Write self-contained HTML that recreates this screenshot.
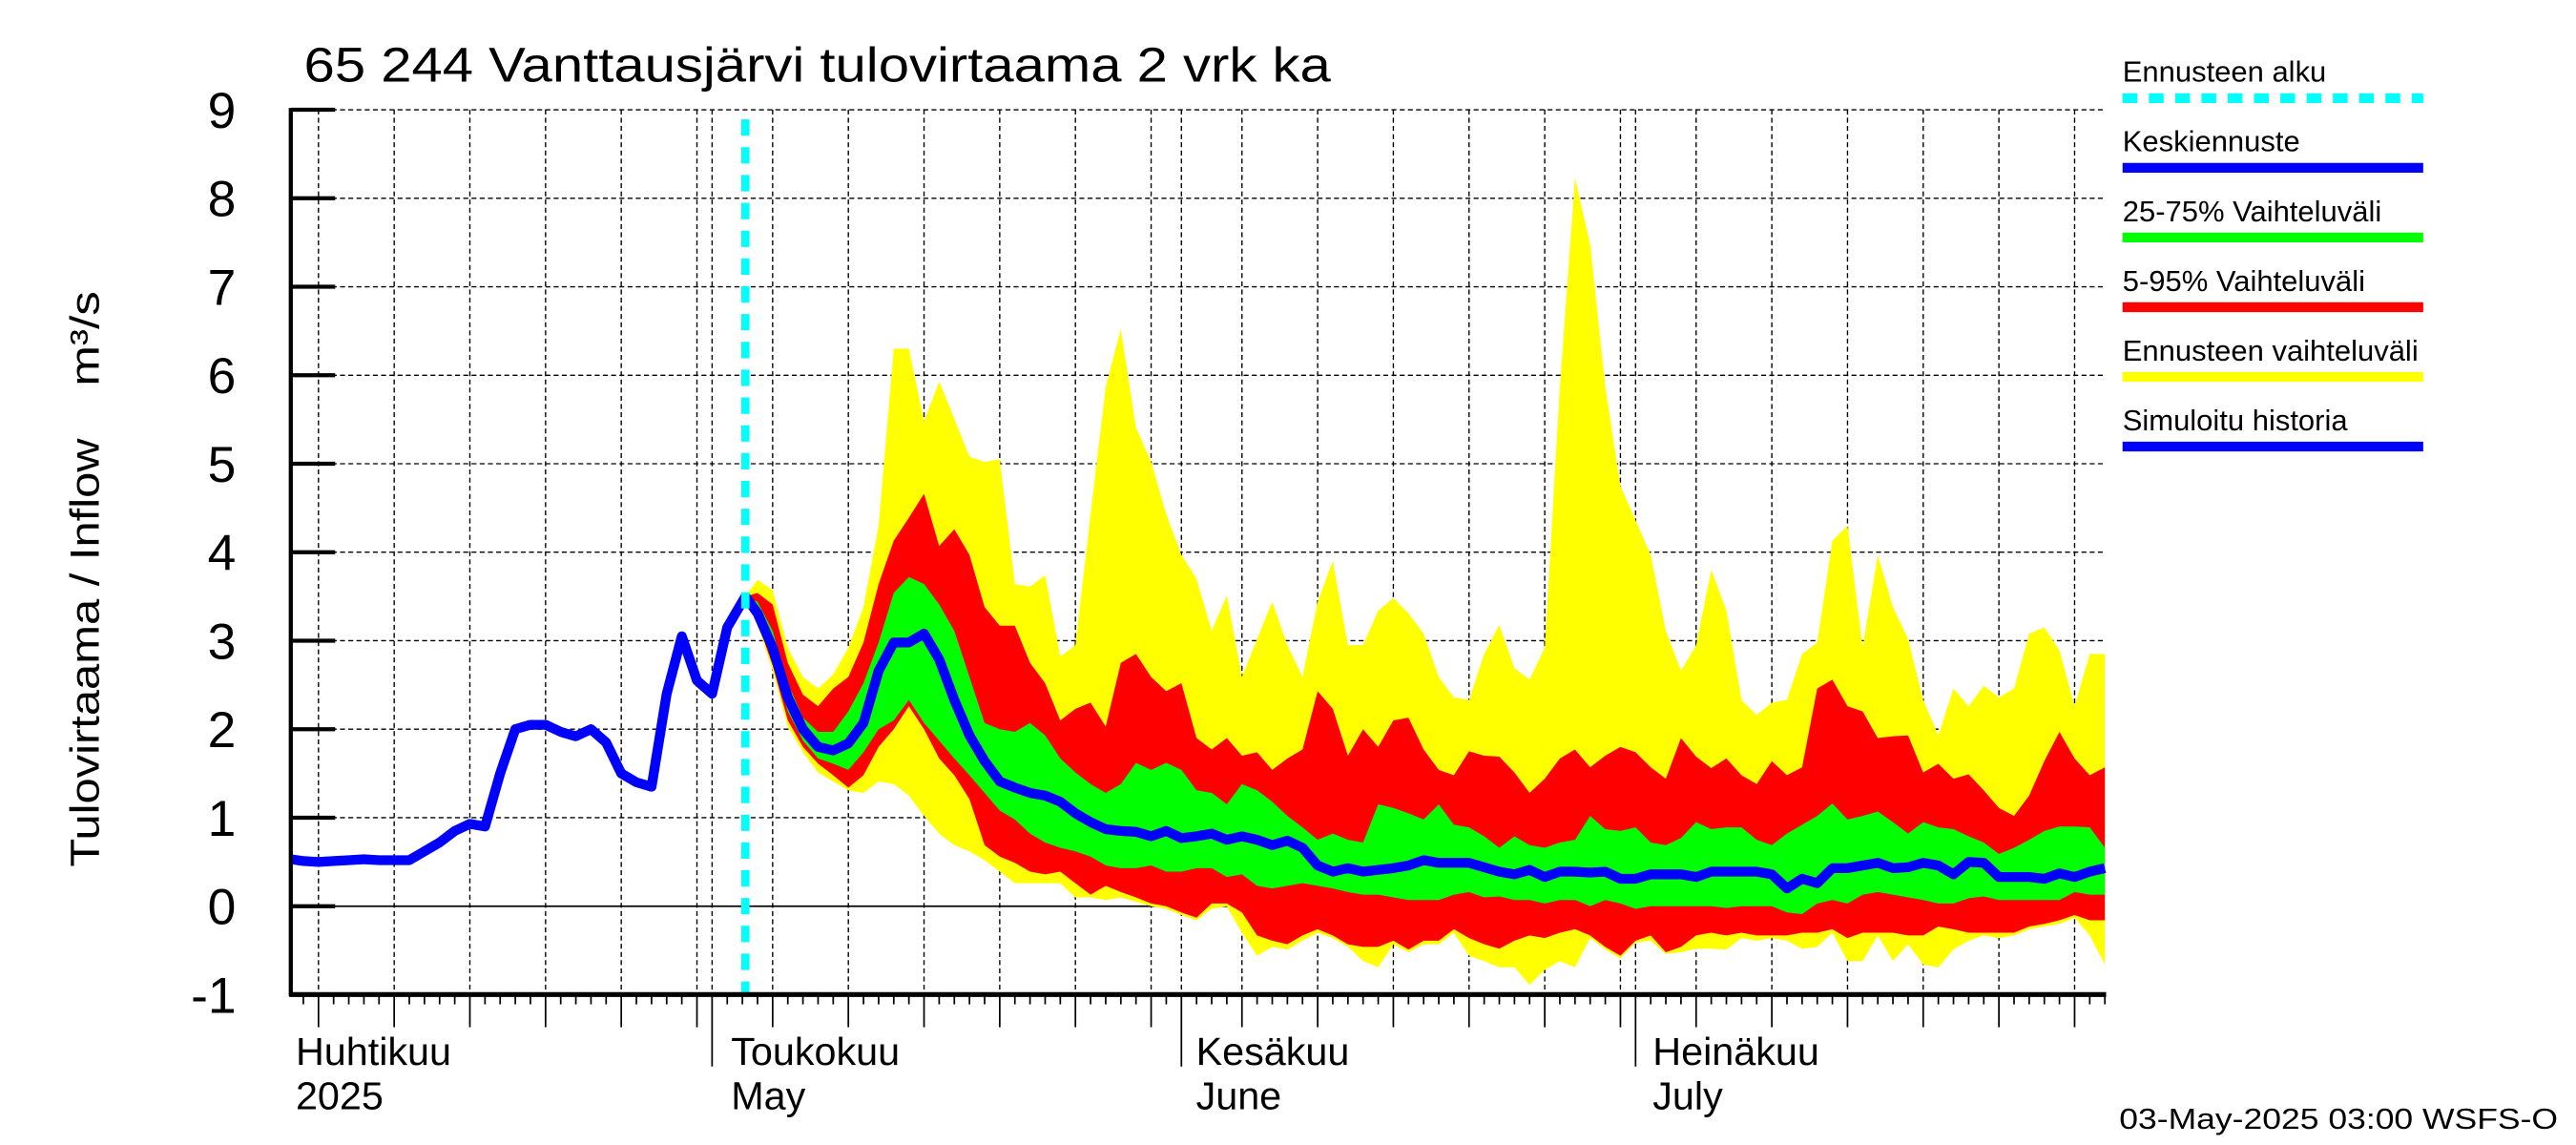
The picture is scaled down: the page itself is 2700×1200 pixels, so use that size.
<!DOCTYPE html>
<html><head><meta charset="utf-8"><style>
html,body{margin:0;padding:0;background:#fff;}
svg{display:block;}
text{font-family:"Liberation Sans",sans-serif;fill:#000;}
</style></head><body>
<svg id="chart" width="2700" height="1200" viewBox="0 0 1568 700" preserveAspectRatio="none" xmlns="http://www.w3.org/2000/svg">
<g id="grid"></g>
<g id="bands"></g>
<g id="lines"></g>
<g id="axes"></g>
<text x="185" y="50" font-size="30" textLength="625" lengthAdjust="spacingAndGlyphs">65 244 Vanttausjärvi tulovirtaama 2 vrk ka</text>
<text transform="translate(60,530) rotate(-90)" font-size="25" textLength="262" lengthAdjust="spacingAndGlyphs">Tulovirtaama / Inflow</text>
<text transform="translate(60,236) rotate(-90)" font-size="25" textLength="58" lengthAdjust="spacingAndGlyphs">m³/s</text>
<text x="1290" y="690" font-size="18" textLength="267" lengthAdjust="spacingAndGlyphs">03-May-2025 03:00 WSFS-O</text>
<g id="legend"></g>
</svg>
<script>
const yTicks = [-1,0,1,2,3,4,5,6,7,8,9];
const monthLabels = [["Huhtikuu","2025",180,0],["Toukokuu","May",445,30],["Kesäkuu","June",728,61],["Heinäkuu","July",1006,91]];
const monthStarts = [30,61,91];
const histT = [2.2,3,4,5,6,7,8,9,10,11,12,13,14,15,16,17,18,19,20,21,22,23,24,25,26,27,28,29,30,31,32.2];
const histV = [0.53,0.51,0.50,0.51,0.52,0.53,0.52,0.52,0.52,0.62,0.72,0.85,0.93,0.9,1.5,2.0,2.05,2.05,1.97,1.92,2.0,1.85,1.5,1.4,1.35,2.4,3.05,2.55,2.4,3.15,3.5];
const fcT = [32.2,33,34,35,36,37,38,39,40,41,42,43,44,45,46,47,48,49,50,51,52,53,54,55,56,57,58,59,60,61,62,63,64,65,66,67,68,69,70,71,72,73,74,75,76,77,78,79,80,81,82,83,84,85,86,87,88,89,90,91,92,93,94,95,96,97,98,99,100,101,102,103,104,105,106,107,108,109,110,111,112,113,114,115,116,117,118,119,120,121,122];
const yelHi = [3.5,3.69,3.57,2.92,2.59,2.46,2.62,2.92,3.38,4.3,6.3,6.3,5.48,5.93,5.51,5.08,5.02,5.05,3.64,3.61,3.74,2.82,2.95,4.43,5.87,6.52,5.41,5.02,4.43,3.97,3.7,3.11,3.51,2.59,3.02,3.44,2.95,2.59,3.44,3.9,2.95,2.95,3.34,3.48,3.31,3.08,2.59,2.36,2.33,2.85,3.18,2.69,2.56,2.92,5.87,8.23,7.48,5.87,4.75,4.36,3.97,3.11,2.66,2.95,3.8,3.34,2.33,2.16,2.3,2.33,2.85,2.98,4.13,4.3,2.92,3.97,3.38,3.02,2.33,1.93,2.46,2.26,2.49,2.36,2.46,3.08,3.15,2.89,2.26,2.85,2.85];
const redHi = [3.5,3.54,3.41,2.75,2.39,2.26,2.46,2.59,2.98,3.64,4.13,4.39,4.66,4.07,4.26,3.97,3.38,3.17,3.17,2.75,2.52,2.1,2.23,2.3,2.03,2.75,2.85,2.59,2.43,2.52,1.9,1.77,1.9,1.7,1.74,1.54,1.67,1.77,2.43,2.23,1.7,2.0,1.8,2.1,2.13,1.77,1.54,1.48,1.75,1.7,1.69,1.51,1.28,1.44,1.67,1.77,1.57,1.7,1.8,1.74,1.57,1.44,1.9,1.69,1.56,1.67,1.48,1.38,1.64,1.48,1.57,2.46,2.56,2.26,2.2,1.9,1.92,1.93,1.51,1.61,1.44,1.49,1.31,1.11,1.02,1.25,1.64,1.97,1.67,1.48,1.57];
const greenHi = [3.5,3.44,3.11,2.52,2.13,1.97,1.97,2.2,2.52,2.98,3.54,3.72,3.64,3.41,3.11,2.59,2.07,2.0,1.97,2.07,1.93,1.67,1.51,1.38,1.28,1.38,1.62,1.54,1.62,1.54,1.31,1.28,1.15,1.38,1.31,1.18,1.02,0.89,0.75,0.82,0.75,0.72,1.15,1.11,1.05,0.98,1.15,0.92,0.89,0.79,0.66,0.79,0.69,0.66,0.72,0.75,1.02,0.87,0.85,0.89,0.72,0.69,0.77,0.95,0.87,0.89,0.89,0.75,0.69,0.82,0.92,1.02,1.16,0.98,1.02,1.07,0.95,0.82,0.95,0.89,0.87,0.79,0.72,0.59,0.66,0.75,0.85,0.9,0.9,0.89,0.66];
const median = [3.5,3.31,2.92,2.36,2.0,1.8,1.76,1.84,2.07,2.66,2.98,2.98,3.08,2.79,2.33,1.93,1.64,1.41,1.34,1.28,1.25,1.18,1.05,0.95,0.87,0.85,0.84,0.79,0.85,0.77,0.79,0.82,0.75,0.79,0.75,0.69,0.74,0.66,0.46,0.39,0.43,0.39,0.41,0.43,0.46,0.52,0.49,0.49,0.49,0.44,0.39,0.36,0.41,0.33,0.39,0.39,0.38,0.39,0.31,0.31,0.36,0.36,0.36,0.33,0.39,0.39,0.39,0.39,0.36,0.2,0.31,0.26,0.43,0.43,0.46,0.49,0.43,0.44,0.49,0.46,0.36,0.5,0.49,0.33,0.33,0.33,0.31,0.37,0.33,0.39,0.43];
const greenLo = [3.5,3.25,2.79,2.2,1.87,1.67,1.61,1.54,1.74,2.0,2.1,2.33,2.07,1.87,1.67,1.48,1.28,1.08,0.98,0.82,0.72,0.66,0.62,0.56,0.46,0.43,0.43,0.46,0.39,0.39,0.43,0.43,0.33,0.36,0.23,0.2,0.23,0.26,0.23,0.2,0.16,0.13,0.13,0.1,0.07,0.07,0.07,0.13,0.16,0.1,0.11,0.07,0.07,0.03,0.07,0.07,0.0,0.07,0.03,-0.03,0.0,0.0,0.0,0.0,0.0,-0.02,0.0,0.0,0.0,-0.07,-0.09,0.03,0.07,0.03,0.13,0.16,0.13,0.1,0.07,0.03,0.03,0.09,0.11,0.07,0.07,0.07,0.07,0.07,0.16,0.13,0.13];
const redLo = [3.5,3.21,2.72,2.1,1.8,1.61,1.48,1.34,1.48,1.8,2.0,2.26,2.0,1.67,1.48,1.21,0.69,0.56,0.49,0.39,0.36,0.39,0.26,0.13,0.23,0.16,0.1,0.03,0.0,-0.07,-0.13,0.03,0.03,-0.07,-0.33,-0.39,-0.43,-0.33,-0.26,-0.33,-0.43,-0.46,-0.46,-0.39,-0.49,-0.39,-0.39,-0.26,-0.36,-0.43,-0.48,-0.39,-0.33,-0.36,-0.3,-0.26,-0.33,-0.46,-0.56,-0.39,-0.33,-0.52,-0.46,-0.33,-0.3,-0.33,-0.3,-0.33,-0.33,-0.33,-0.3,-0.3,-0.26,-0.36,-0.3,-0.3,-0.3,-0.33,-0.33,-0.23,-0.26,-0.3,-0.3,-0.3,-0.3,-0.23,-0.2,-0.16,-0.1,-0.16,-0.16];
const yelLo = [3.5,3.18,2.66,2.03,1.74,1.51,1.41,1.31,1.28,1.41,1.38,1.25,1.02,0.82,0.69,0.62,0.52,0.39,0.26,0.26,0.26,0.26,0.1,0.1,0.07,0.1,0.05,0.0,-0.03,-0.1,-0.16,-0.03,0.0,-0.3,-0.56,-0.46,-0.49,-0.39,-0.3,-0.36,-0.46,-0.62,-0.69,-0.43,-0.52,-0.43,-0.43,-0.3,-0.56,-0.62,-0.69,-0.69,-0.89,-0.72,-0.62,-0.69,-0.36,-0.49,-0.59,-0.41,-0.39,-0.54,-0.52,-0.48,-0.48,-0.49,-0.36,-0.39,-0.36,-0.39,-0.48,-0.46,-0.3,-0.62,-0.62,-0.33,-0.62,-0.43,-0.66,-0.69,-0.49,-0.39,-0.33,-0.36,-0.33,-0.26,-0.23,-0.2,-0.13,-0.33,-0.66];
const forecastStart = 32.2;

const NS="http://www.w3.org/2000/svg";
const X0=157, DX=9.215, Y0=554, DY=54.1, L=177, R=1281, T=67, B=608;
function xs(t){return X0+DX*t;}
function ys(v){return Y0-DY*v;}
function mk(tag,attrs,parent){const e=document.createElementNS(NS,tag);for(const k in attrs)e.setAttribute(k,attrs[k]);parent.appendChild(e);return e;}
const grid=document.getElementById('grid'),bands=document.getElementById('bands'),lines=document.getElementById('lines'),axes=document.getElementById('axes'),legend=document.getElementById('legend');

yTicks.forEach(v=>{
  if(v===-1)return;
  const g=mk('line',{x1:L,x2:R,y1:ys(v),y2:ys(v),stroke:'#000','stroke-width':v===0?1:0.8,'stroke-dasharray':v===0?'none':'3,2'},grid);
  
  
});
for(let t=0;t<=122;t++){
  const isMonth=monthStarts.includes(t);
  let dom;
  if(t<30)dom=t+1;else if(t<61)dom=t-29;else if(t<91)dom=t-60;else dom=t-90;
  const five=dom%5===0;
  const x=xs(t);
  if(x<L||x>R+0.5)continue;
  if(isMonth||five){
    const g=mk('line',{x1:x,x2:x,y1:T,y2:B,stroke:'#000','stroke-width':0.8,'stroke-dasharray':'3,2'},grid);
    
    
  }
  const len=isMonth?44:(five?20:6);
  const tk=mk('line',{x1:x,x2:x,y1:B,y2:B+len,stroke:'#000','stroke-width':1},axes);
  
  
}

function band(hi,lo,color,name){
  let d='M'+fcT.map((t,i)=>xs(t)+','+ys(hi[i])).join('L');
  for(let i=fcT.length-1;i>=0;i--)d+='L'+xs(fcT[i])+','+ys(lo[i]);
  const p=mk('path',{d:d+'Z',fill:color},bands);
  
  
}
band(yelHi,yelLo,'#ffff00','band-forecast-range');
band(redHi,redLo,'#ff0000','band-5-95');
band(greenHi,greenLo,'#00ff00','band-25-75');

const hp=mk('polyline',{points:histT.map((t,i)=>xs(t)+','+ys(histV[i])).join(' '),fill:'none',stroke:'#0000ff','stroke-width':6,'stroke-linejoin':'round'},lines);


const mp=mk('polyline',{points:fcT.map((t,i)=>xs(t)+','+ys(median[i])).join(' '),fill:'none',stroke:'#0000ff','stroke-width':6,'stroke-linejoin':'round'},lines);


const fl=mk('line',{x1:xs(forecastStart),x2:xs(forecastStart),y1:73,y2:B,stroke:'#00ffff','stroke-width':5,'stroke-dasharray':'10,7'},lines);



const ax1=mk('line',{x1:L,x2:L,y1:T-1,y2:B+1,stroke:'#000','stroke-width':2.5},axes);


const ax2=mk('line',{x1:L-1,x2:R+1,y1:B,y2:B,stroke:'#000','stroke-width':3},axes);


yTicks.forEach(v=>{
  const tk=mk('line',{x1:L,x2:L+27,y1:ys(v),y2:ys(v),stroke:'#000','stroke-width':2.5},axes);
  
  
  const tx=mk('text',{x:v<0?130:135,y:ys(v)+11,'font-size':31,'text-anchor':'middle'},axes);
  tx.textContent=String(v);
  
  
});
monthLabels.forEach(m=>{
  const a=mk('text',{x:m[2],y:651,'font-size':24},axes);a.textContent=m[0];
  
  
  const b=mk('text',{x:m[2],y:678,'font-size':24},axes);b.textContent=m[1];
  
  
});

const legItems=[["Ennusteen alku","#00ffff",true],["Keskiennuste","#0000ff",false],["25-75% Vaihteluväli","#00ff00",false],["5-95% Vaihteluväli","#ff0000",false],["Ennusteen vaihteluväli","#ffff00",false],["Simuloitu historia","#0000ff",false]];
legItems.forEach((it,i)=>{
  const by=50+i*42.6;
  const tx=mk('text',{x:1292,y:by,'font-size':18},legend);tx.textContent=it[0];
  
  
  const ln=mk('line',{x1:1292,x2:1475,y1:by+10,y2:by+10,stroke:it[1],'stroke-width':6,'stroke-dasharray':it[2]?'9,7':'none'},legend);
  
  
});
</script>
</body></html>
